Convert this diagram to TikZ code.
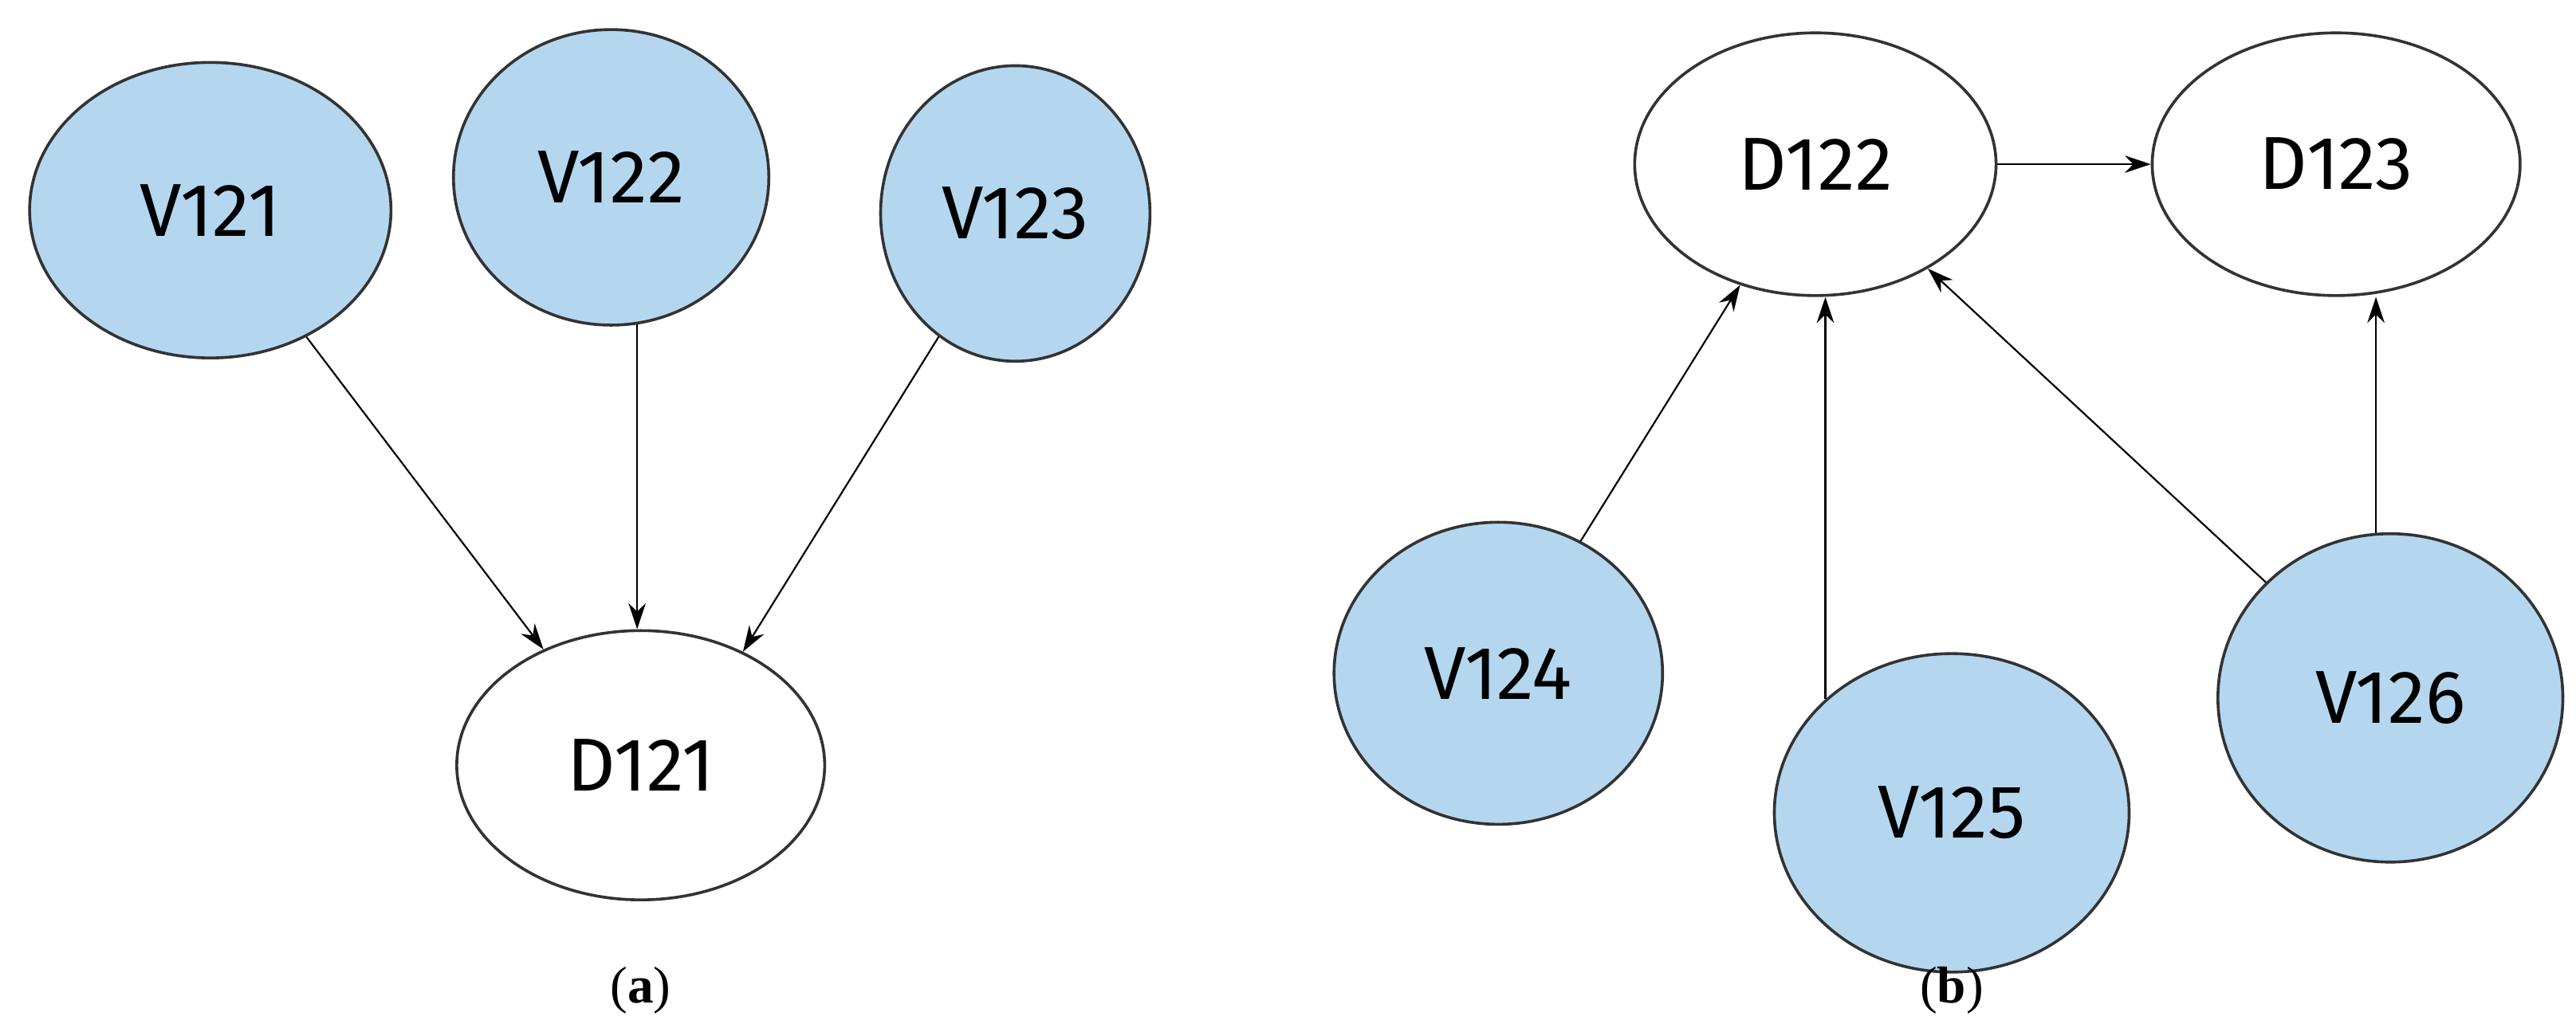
\documentclass[tikz,border=0pt]{standalone}
\usepackage{fontspec}
\setmainfont{Liberation Serif}
\newfontfamily\nodefont{Fira Sans}
\usetikzlibrary{shapes.geometric,arrows.meta}
\definecolor{varblue}{HTML}{B4D7EF}

\begin{document}
\begin{tikzpicture}[x=0.02cm, y=-0.02cm,
	var/.style={ellipse, draw=black!80, line width=1pt, fill=varblue, inner sep=0pt,
		font=\nodefont\fontsize{26}{28}\selectfont},
	dec/.style={var, fill=white},
	link/.style={-{Stealth[length=9pt,width=6pt]}, line width=0.6pt}]

\useasboundingbox (0,0) rectangle (1568,628);

% (a)
\node[var, minimum width=4.4cm, minimum height=3.6cm] (v121) at (128,128) {V121};
\node[var, minimum width=3.84cm, minimum height=3.6cm] (v122) at (372,108) {V122};
\node[var, minimum width=3.28cm, minimum height=3.6cm] (v123) at (618,130) {V123};
\node[dec, minimum width=4.48cm, minimum height=3.28cm] (d121) at (390,466) {D121};

\draw[link] (v121) -- (d121.130);
\draw[link] (v122.-80) -- (v122.-80 |- d121.north);
\draw[link] (v123) -- (d121.48);

% (b)
\node[dec, minimum width=4.4cm, minimum height=3.2cm] (d122) at (1105,100) {D122};
\node[dec, minimum width=4.48cm, minimum height=3.2cm] (d123) at (1422,100) {D123};
\node[var, minimum width=4cm, minimum height=3.68cm] (v124) at (912,410) {V124};
\node[var, minimum width=4.32cm, minimum height=3.88cm] (v125) at (1188,495) {V125};
\node[var, minimum width=4.2cm, minimum height=4cm] (v126) at (1455,425) {V126};

\draw[link] (d122) -- (d123);
\draw[link] (v124) -- (d122);
\draw[link] (v125.138) -- (v125.138 |- d122.south);
\draw[link] (v126) -- (d122);
\draw[link] (v126.95) -- (v126.95 |- d123.south);

% captions
\node[font=\fontsize{18}{20}\selectfont] (capa) at (390,603) {(\textbf{a})};
\node[font=\fontsize{18}{20}\selectfont] (capb) at (1188,603) {(\textbf{b})};

\end{tikzpicture}
\end{document}
